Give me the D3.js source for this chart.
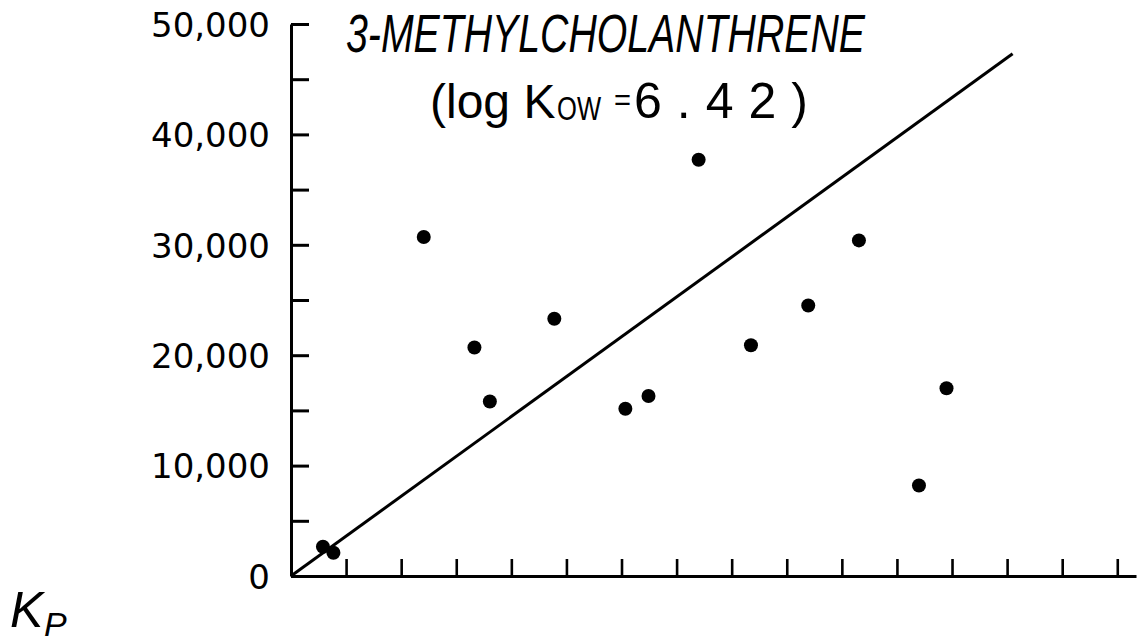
<!DOCTYPE html>
<html>
<head>
<meta charset="utf-8">
<script src="https://cdn.jsdelivr.net/npm/d3@7"></script>
<style>
  html, body { margin: 0; padding: 0; background: #fff; }
  svg { display: block; }
</style>
</head>
<body>
<svg id="chart" width="1138" height="643"></svg>
<script>
// ---- data ----
const pointX = [0.58, 0.77, 2.41, 3.33, 3.61, 4.78, 6.07, 6.49, 7.40, 8.35, 9.39, 10.31, 11.40, 11.90];
const pointKp = [2650, 2110, 30700, 20700, 15800, 23300, 15150, 16300, 37700, 20900, 24500, 30400, 8200, 17000];
const lineX = [0, 13.1];
const lineKp = [0, 47300];
const yMajorTicks = [0, 10000, 20000, 30000, 40000, 50000];
const yMinorTicks = [5000, 15000, 25000, 35000, 45000];
const xTicks = [1, 2, 3, 4, 5, 6, 7, 8, 9, 10, 11, 12, 13, 14, 15];
const titleText = "3-METHYLCHOLANTHRENE";
const subtitleParts = ["(log K", "OW", "=", "6.42)"];
const yLabelMain = "K";
const yLabelSub = "P";

// ---- layout ----
const svg = d3.select("#chart");
const x = d3.scaleLinear().domain([0, 15.34]).range([291, 1136]);
const y = d3.scaleLinear().domain([0, 50000]).range([576, 24]);
const ink = "#000";
const fmt = d3.format(",");
const sw = 3;

// y axis (major ticks with labels, inward)
const yAxis = svg.append("g").attr("transform", `translate(${x(0)},0)`)
  .call(d3.axisLeft(y).tickValues(yMajorTicks).tickSizeInner(-18).tickSizeOuter(0)
        .tickPadding(21).tickFormat(fmt));
yAxis.select(".domain").attr("stroke", ink).attr("stroke-width", sw);
yAxis.selectAll(".tick line").attr("stroke", ink).attr("stroke-width", sw);
yAxis.selectAll(".tick text")
  .attr("fill", ink)
  .style("font-family", "'DejaVu Sans', sans-serif")
  .style("font-size", "34px")
  .attr("dy", "0.36em");

// y minor ticks
const yMinor = svg.append("g").attr("transform", `translate(${x(0)},0)`)
  .call(d3.axisLeft(y).tickValues(yMinorTicks).tickSizeInner(-18).tickSizeOuter(0).tickFormat(""));
yMinor.select(".domain").remove();
yMinor.selectAll(".tick line").attr("stroke", ink).attr("stroke-width", sw);

// x axis (ticks upward, no labels)
const xAxis = svg.append("g").attr("transform", `translate(0,${y(0)})`)
  .call(d3.axisBottom(x).tickValues(xTicks).tickSizeInner(-17).tickSizeOuter(0).tickFormat(""));
xAxis.select(".domain").attr("stroke", ink).attr("stroke-width", sw);
xAxis.selectAll(".tick line").attr("stroke", ink).attr("stroke-width", 2.6);

// prediction line
const lineData = lineX.map((v, i) => [v, lineKp[i]]);
svg.append("path")
  .datum(lineData)
  .attr("fill", "none")
  .attr("stroke", ink)
  .attr("stroke-width", 3)
  .attr("d", d3.line().x(d => x(d[0])).y(d => y(d[1])));

// points
svg.append("g").selectAll("circle")
  .data(pointX.map((v, i) => [v, pointKp[i]]))
  .join("circle")
  .attr("cx", d => x(d[0]))
  .attr("cy", d => y(d[1]))
  .attr("r", 7)
  .attr("fill", ink);

// title
svg.append("text")
  .attr("x", 346).attr("y", 52)
  .attr("textLength", 519).attr("lengthAdjust", "spacingAndGlyphs")
  .style("font-family", "'Liberation Sans', Arial, sans-serif")
  .style("font-style", "italic")
  .style("font-size", "53px")
  .attr("fill", ink)
  .text(titleText);

// subtitle
const subFont = "'Liberation Sans', Arial, sans-serif";
const sub = svg.append("g").attr("fill", ink).style("font-family", subFont);
sub.append("text").attr("x", 430).attr("y", 118).style("font-size", "48px")
  .text(subtitleParts[0]);
sub.append("text").attr("x", 557).attr("y", 120).style("font-size", "34px")
  .attr("textLength", 44).attr("lengthAdjust", "spacingAndGlyphs")
  .text(subtitleParts[1]);
sub.append("text").attr("x", 614).attr("y", 110).style("font-size", "30px")
  .attr("textLength", 17).attr("lengthAdjust", "spacingAndGlyphs")
  .text(subtitleParts[2]);
sub.append("text").attr("x", 634).attr("y", 118).style("font-size", "50px")
  .attr("textLength", 174).attr("lengthAdjust", "spacing")
  .text(subtitleParts[3]);

// y axis label K_P
const labFont = "'Liberation Sans', Arial, sans-serif";
svg.append("text")
  .attr("x", 10).attr("y", 627)
  .style("font-family", labFont).style("font-style", "italic").style("font-size", "50px")
  .attr("fill", ink).text(yLabelMain);
svg.append("text")
  .attr("x", 44).attr("y", 636)
  .style("font-family", labFont).style("font-style", "italic").style("font-size", "34px")
  .attr("fill", ink).text(yLabelSub);
</script>
</body>
</html>
